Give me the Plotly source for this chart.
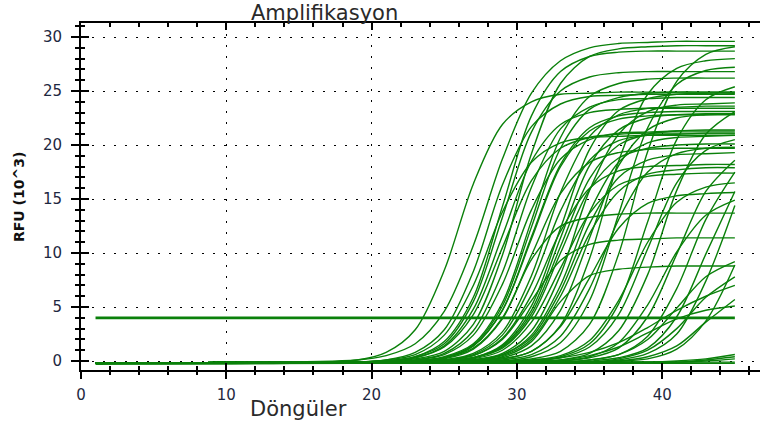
import plotly.graph_objects as go

# Cycle positions at which each amplification curve was read (RFU in 10^3)
cycles = [1, 19, 21, 23, 25, 27, 29, 31, 33, 35, 37, 39, 41, 43, 45]

well_a = [-0.2, 0.1, 0.8, 2.9, 8.4, 16.4, 21.9, 24.0, 24.7, 24.8, 24.9, 24.9, 24.9, 24.9, 24.9]
well_b = [-0.2, 0.1, 0.5, 1.6, 4.6, 10.7, 18.7, 24.8, 27.8, 29.0, 29.4, 29.5, 29.6, 29.6, 29.6]
well_c01 = [-0.2, -0.1, 0.1, 0.8, 2.9, 8.3, 16.3, 21.7, 23.8, 24.5, 24.6, 24.7, 24.7, 24.7, 24.7]
well_c02 = [-0.2, -0.1, 0.0, 0.4, 1.8, 5.9, 14.3, 22.7, 26.8, 28.2, 28.6, 28.7, 28.7, 28.7, 28.7]
well_c03 = [-0.2, -0.1, 0.0, 0.4, 1.6, 5.5, 13.3, 21.2, 25.0, 26.3, 26.7, 26.8, 26.8, 26.8, 26.8]
well_c04 = [-0.2, -0.1, 0.0, 0.3, 1.4, 4.8, 11.6, 18.5, 21.9, 23.0, 23.3, 23.4, 23.4, 23.4, 23.4]
well_c05 = [-0.2, -0.1, -0.1, 0.1, 0.6, 2.4, 7.1, 14.0, 18.7, 20.5, 21.1, 21.2, 21.3, 21.3, 21.3]
well_c06 = [-0.2, -0.1, 0.0, 0.2, 0.9, 3.4, 9.8, 19.2, 25.7, 28.2, 28.9, 29.1, 29.2, 29.2, 29.2]
well_c07 = [-0.2, -0.1, -0.1, 0.1, 0.7, 2.8, 8.2, 16.1, 21.5, 23.5, 24.2, 24.3, 24.4, 24.4, 24.4]
well_c08 = [-0.2, -0.1, -0.1, 0.0, 0.3, 1.4, 4.7, 11.3, 18.0, 21.3, 22.4, 22.7, 22.8, 22.8, 22.8]
well_c09 = [-0.2, -0.1, -0.1, 0.0, 0.3, 1.2, 4.0, 9.8, 15.5, 18.4, 19.3, 19.6, 19.7, 19.7, 19.7]
well_c10 = [-0.2, -0.1, -0.1, 0.0, 0.2, 1.1, 3.9, 9.4, 12.5, 13.3, 13.6, 13.7, 13.7, 13.7, 13.7]
well_c11 = [-0.2, -0.1, -0.1, 0.0, 0.4, 1.6, 5.4, 13.0, 20.7, 24.5, 25.7, 26.1, 26.2, 26.2, 26.2]
well_c12 = [-0.2, -0.1, -0.1, 0.0, 0.3, 1.4, 4.7, 11.5, 18.2, 21.6, 22.7, 23.0, 23.1, 23.1, 23.1]
well_c13 = [-0.2, -0.1, -0.1, -0.1, 0.1, 0.6, 2.4, 7.1, 13.9, 18.6, 20.4, 20.9, 21.0, 21.1, 21.1]
well_c14 = [-0.2, -0.1, -0.1, -0.1, 0.1, 0.5, 2.1, 6.1, 12.0, 16.0, 17.6, 18.0, 18.1, 18.2, 18.2]
well_c15 = [-0.2, -0.1, -0.1, -0.1, 0.1, 0.5, 2.0, 5.6, 9.3, 10.8, 11.2, 11.3, 11.4, 11.4, 11.4]
well_c16 = [-0.2, -0.1, -0.1, -0.1, 0.1, 0.7, 2.7, 7.9, 15.6, 20.8, 22.8, 23.4, 23.5, 23.6, 23.6]
well_c17 = [-0.2, -0.1, -0.1, -0.1, 0.0, 0.3, 1.3, 4.4, 10.6, 16.9, 20.0, 21.0, 21.3, 21.4, 21.4]
well_c18 = [-0.2, -0.1, -0.1, -0.1, 0.0, 0.3, 1.2, 4.1, 10.0, 15.9, 18.8, 19.7, 20.0, 20.1, 20.1]
well_c19 = [-0.2, -0.1, -0.1, -0.1, 0.0, 0.2, 1.0, 3.6, 8.6, 13.7, 16.3, 17.1, 17.3, 17.4, 17.4]
well_c20 = [-0.2, -0.1, -0.1, -0.1, 0.0, 0.1, 0.4, 1.8, 5.5, 7.9, 8.5, 8.7, 8.8, 8.8, 8.8]
well_c21 = [-0.2, -0.1, -0.1, -0.1, -0.1, 0.1, 0.6, 2.4, 7.0, 13.8, 18.4, 20.2, 20.7, 20.8, 20.9]
well_c22 = [-0.2, -0.1, -0.1, -0.1, -0.1, 0.1, 0.6, 2.2, 6.5, 12.7, 17.0, 18.6, 19.1, 19.2, 19.3]
well_c23 = [-0.2, -0.1, -0.1, -0.1, 0.0, 0.3, 1.5, 5.1, 12.3, 19.6, 23.2, 24.3, 24.7, 24.8, 24.8]
well_c24 = [-0.2, -0.1, -0.1, -0.1, -0.1, 0.1, 0.5, 2.0, 6.0, 11.8, 15.7, 17.3, 17.7, 17.9, 17.9]
well_c25 = [-0.2, -0.1, -0.1, -0.1, -0.1, 0.0, 0.2, 0.9, 3.2, 7.7, 12.3, 14.6, 15.3, 15.5, 15.6]
well_c26 = [-0.2, -0.1, 0.1, 0.6, 2.4, 7.0, 13.8, 18.4, 20.2, 20.7, 20.8, 20.9, 20.9, 20.9, 20.9]
well_c27 = [-0.2, -0.1, -0.1, 0.0, 0.3, 1.5, 5.1, 12.4, 19.7, 23.3, 24.4, 24.8, 24.9, 24.9, 24.9]
well_c28 = [-0.2, -0.1, -0.1, -0.1, 0.0, 0.3, 1.4, 4.7, 11.4, 18.1, 21.4, 22.5, 22.8, 22.9, 22.9]
well_c29 = [-0.2, -0.1, -0.1, -0.1, -0.1, 0.1, 0.7, 2.8, 8.0, 15.8, 21.0, 23.1, 23.7, 23.8, 23.9]
well_c30 = [-0.2, -0.1, 0.0, 0.3, 1.3, 4.3, 10.5, 16.7, 19.7, 20.7, 21.0, 21.1, 21.1, 21.1, 21.1]
well_l01 = [-0.2, -0.1, -0.1, -0.1, -0.1, 0.0, 0.3, 1.4, 4.7, 11.4, 18.1, 21.4, 22.5, 22.8, 22.9]
well_l02 = [-0.2, -0.1, -0.1, -0.1, -0.1, 0.0, 0.2, 0.9, 3.3, 9.5, 18.5, 24.7, 27.1, 27.8, 28.0]
well_l03 = [-0.2, -0.1, -0.1, -0.1, -0.1, -0.1, 0.0, 0.4, 1.7, 5.6, 13.6, 21.6, 25.6, 26.9, 27.2]
well_l04 = [-0.2, -0.1, -0.1, -0.1, -0.1, -0.1, 0.1, 0.6, 2.3, 6.7, 13.1, 17.5, 19.2, 19.7, 19.8]
well_l05 = [-0.2, -0.1, -0.1, -0.1, -0.1, -0.1, 0.0, 0.2, 0.9, 3.4, 9.9, 19.4, 25.9, 28.4, 29.1]
well_l06 = [-0.2, -0.1, -0.1, -0.1, -0.1, -0.1, -0.1, 0.1, 0.5, 1.9, 5.6, 11.0, 14.7, 16.1, 16.5]
well_l07 = [-0.2, -0.1, -0.1, -0.1, -0.1, -0.1, -0.1, 0.0, 0.4, 1.6, 5.3, 12.9, 20.5, 24.2, 25.4]
well_l08 = [-0.2, -0.1, -0.1, -0.1, -0.1, -0.1, -0.1, 0.0, 0.3, 1.3, 4.3, 10.4, 16.5, 19.5, 20.5]
well_l09 = [-0.2, -0.1, -0.1, -0.1, -0.1, -0.1, -0.1, -0.1, 0.1, 0.7, 2.8, 8.0, 15.8, 21.0, 23.1]
well_l10 = [-0.2, -0.1, -0.1, -0.1, -0.1, -0.1, -0.1, -0.1, 0.0, 0.4, 1.7, 5.2, 10.1, 13.5, 14.9]
well_l11 = [-0.2, -0.1, -0.1, -0.1, -0.1, -0.1, -0.1, -0.1, 0.0, 0.3, 1.2, 4.1, 9.9, 15.7, 18.6]
well_l12 = [-0.2, -0.1, -0.1, -0.1, -0.1, -0.1, -0.1, -0.1, -0.1, 0.1, 0.6, 2.0, 4.9, 7.8, 9.2]
well_l13 = [-0.2, -0.1, -0.1, -0.1, -0.1, -0.1, -0.1, -0.1, -0.1, 0.1, 0.6, 2.3, 6.7, 13.1, 17.5]
well_l14 = [-0.2, -0.1, -0.1, -0.1, -0.1, -0.1, -0.1, -0.1, -0.1, -0.1, 0.2, 1.0, 3.0, 5.9, 7.8]
well_l15 = [-0.2, -0.1, -0.1, -0.1, -0.1, -0.1, -0.1, -0.1, -0.1, 0.0, 0.3, 1.2, 4.1, 9.9, 15.7]
well_l16 = [-0.2, -0.1, -0.1, -0.1, -0.1, -0.1, -0.1, -0.1, -0.1, -0.1, 0.0, 0.4, 1.4, 3.6, 5.7]
well_l17 = [-0.2, -0.1, -0.1, -0.1, -0.1, -0.1, -0.1, -0.1, -0.1, -0.1, 0.1, 0.7, 2.5, 7.4, 14.4]
well_l18 = [-0.2, -0.1, -0.1, -0.1, -0.1, -0.1, 0.0, 0.1, 0.3, 0.8, 1.7, 3.1, 4.7, 6.0, 7.0]
well_l19 = [-0.2, -0.1, -0.1, -0.1, -0.1, -0.1, -0.1, 0.0, 0.1, 0.5, 1.3, 2.6, 3.9, 4.7, 5.1]
well_l20 = [-0.2, -0.1, -0.1, -0.1, -0.1, -0.1, -0.1, -0.1, -0.1, -0.1, 0.0, 0.2, 1.1, 3.7, 8.9]
well_n01 = [-0.2, -0.1, -0.1, -0.1, -0.1, -0.1, -0.1, -0.1, -0.1, -0.1, -0.1, -0.1, 0.0, 0.2, 0.6]
well_n02 = [-0.2, -0.1, -0.1, -0.1, -0.1, -0.1, -0.1, -0.1, -0.1, -0.1, -0.1, -0.1, -0.1, 0.1, 0.4]
well_n03 = [-0.2, -0.1, -0.1, -0.1, -0.1, -0.1, -0.1, -0.1, -0.1, -0.1, -0.1, -0.1, -0.1, 0.0, 0.2]
well_n04 = [-0.3, -0.2, -0.2, -0.2, -0.2, -0.2, -0.2, -0.2, -0.2, -0.2, -0.2, -0.2, -0.2, -0.2, -0.2]
well_n05 = [-0.2, -0.1, -0.1, -0.1, -0.1, -0.1, -0.1, -0.1, -0.1, -0.1, -0.1, -0.1, -0.1, -0.1, -0.1]

wells = [
    well_a, well_b,
    well_c01, well_c02, well_c03, well_c04, well_c05, well_c06, well_c07, well_c08,
    well_c09, well_c10, well_c11, well_c12, well_c13, well_c14, well_c15, well_c16,
    well_c17, well_c18, well_c19, well_c20, well_c21, well_c22, well_c23, well_c24,
    well_c25, well_c26, well_c27, well_c28, well_c29, well_c30,
    well_l01, well_l02, well_l03, well_l04, well_l05, well_l06, well_l07, well_l08,
    well_l09, well_l10, well_l11, well_l12, well_l13, well_l14, well_l15, well_l16,
    well_l17, well_l18, well_l19, well_l20,
    well_n01, well_n02, well_n03, well_n04, well_n05,
]

threshold_cycles = [1, 45]
threshold_values = [4.0, 4.0]

x_ticks = [0, 10, 20, 30, 40]
y_ticks = [0, 5, 10, 15, 20, 25, 30]

title_text = "Amplifikasyon"
x_title = "Döngüler"
y_title = "RFU (10^3)"

GREEN = "#0a800a"
X_RANGE = [0, 46.73]
Y_RANGE = [-0.83, 31.3]
FONT = "DejaVu Sans, Verdana, sans-serif"
TICKFONT = dict(family=FONT, size=15, color="#1e2840")

fig = go.Figure()
for ys in wells:
    fig.add_trace(go.Scatter(
        x=cycles, y=ys, mode="lines",
        line=dict(color=GREEN, width=1.4, shape="spline", smoothing=0.9),
        hoverinfo="skip", showlegend=False,
    ))

fig.add_trace(go.Scatter(
    x=threshold_cycles, y=threshold_values, mode="lines",
    xaxis="x2", yaxis="y2",
    line=dict(color=GREEN, width=2.6),
    hoverinfo="skip", showlegend=False,
))

common_x = dict(range=X_RANGE, tickvals=x_ticks, tickcolor="black", tickwidth=1.5,
                ticklen=7, zeroline=False)
common_y = dict(range=Y_RANGE, tickvals=y_ticks, tickcolor="black", tickwidth=1.5,
                ticklen=8, zeroline=False)

fig.update_layout(
    width=760, height=427,
    margin=dict(l=81, r=0, t=23, b=57),
    paper_bgcolor="white", plot_bgcolor="white",
    showlegend=False,
    xaxis=dict(
        **common_x, ticks="outside",
        showline=True, linecolor="black", linewidth=2, mirror=True,
        showgrid=True, gridcolor="black", gridwidth=1, griddash="2px,9px",
        tickfont=TICKFONT, ticklabelstandoff=3,
        minor=dict(dtick=2, tick0=0, ticks="outside", ticklen=3, tickwidth=1.5,
                   tickcolor="black", showgrid=False),
    ),
    xaxis2=dict(
        **common_x, overlaying="x", anchor="y2", side="bottom", ticks="inside",
        showline=True, linecolor="black", linewidth=2, mirror="ticks",
        showgrid=False, showticklabels=False,
        minor=dict(dtick=2, tick0=0, ticks="inside", ticklen=4, tickwidth=1.5,
                   tickcolor="black", showgrid=False),
    ),
    yaxis=dict(
        **common_y, ticks="outside",
        showline=True, linecolor="black", linewidth=2,
        showgrid=True, gridcolor="black", gridwidth=1, griddash="2px,9px",
        tickfont=TICKFONT, ticklabelstandoff=6,
        minor=dict(dtick=1, tick0=0, ticks="outside", ticklen=4, tickwidth=1.5,
                   tickcolor="black", showgrid=False),
    ),
    yaxis2=dict(
        **common_y, overlaying="y", anchor="x2", side="left", ticks="inside",
        showline=False, showgrid=False, showticklabels=False,
        minor=dict(dtick=1, tick0=0, ticks="inside", ticklen=4, tickwidth=1.5,
                   tickcolor="black", showgrid=False),
    ),
    annotations=[
        dict(text=title_text, xref="paper", yref="paper", x=0.358, y=1.030,
             xanchor="center", yanchor="middle", showarrow=False,
             font=dict(family=FONT, size=21, color="#2a2a2a")),
        dict(text=x_title, xref="paper", yref="paper", x=0.321, y=-0.112,
             xanchor="center", yanchor="middle", showarrow=False,
             font=dict(family=FONT, size=21, color="#2a2a2a")),
        dict(text="<b>" + y_title + "</b>", xref="paper", yref="paper", x=-0.0913, y=0.4986,
             xanchor="center", yanchor="middle", showarrow=False, textangle=-90,
             font=dict(family=FONT, size=14, color="#111")),
    ],
)

fig.write_html("out.html")
